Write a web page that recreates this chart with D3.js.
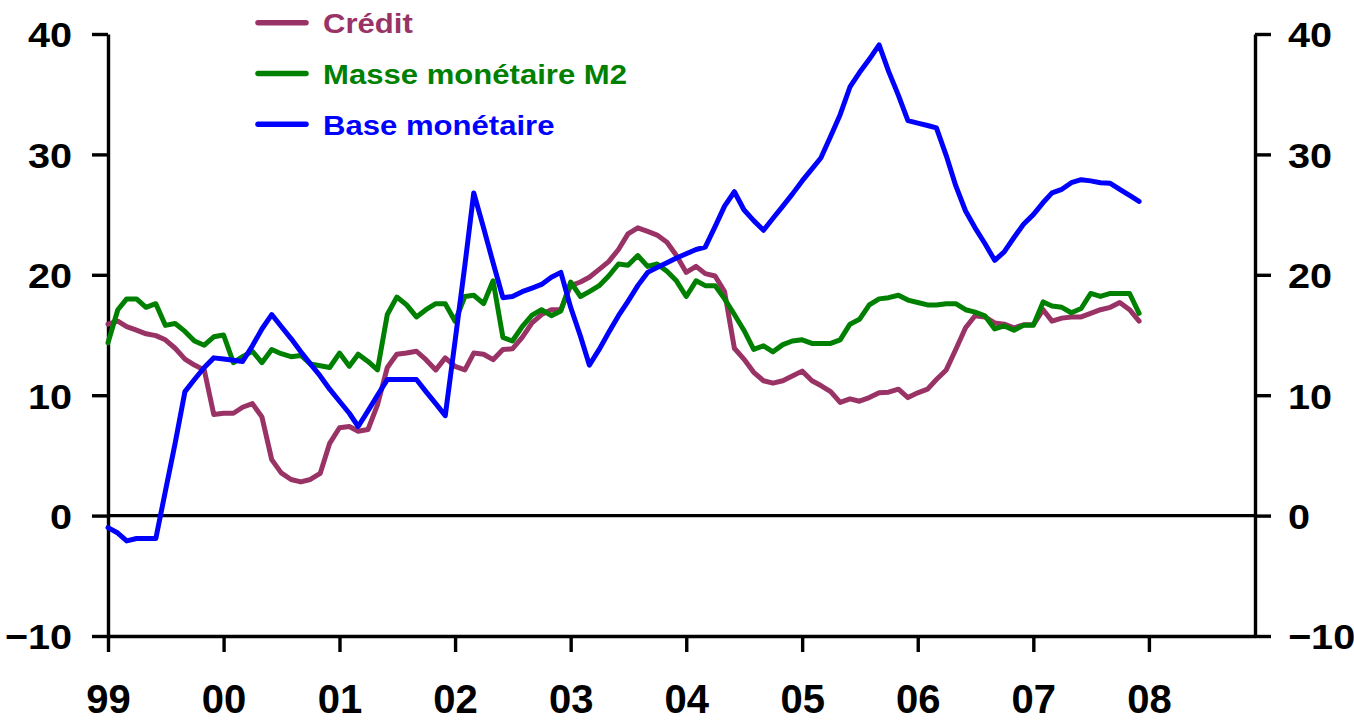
<!DOCTYPE html>
<html>
<head>
<meta charset="utf-8">
<script src="https://cdn.jsdelivr.net/npm/d3@7"></script>
<style>
  html, body { margin: 0; padding: 0; background: #fff; }
  svg { display: block; }
  text { font-family: Arial, "Liberation Sans", sans-serif; font-weight: bold; }
</style>
</head>
<body>
<svg id="chart" width="1354" height="723"></svg>
<script>
// ---- Data (monthly, Jan 1999 – Dec 2007, % y/y) ----
const startYear = 1999;
const credit = [15.9,16.15,15.7,15.4,15.1,14.95,14.6,13.9,13.0,12.5,12.1,8.4,
  8.5,8.5,9.0,9.3,8.2,4.65,3.55,3.0,2.8,3.0,3.5,6.0,
  7.3,7.4,7.0,7.15,9.2,12.3,13.4,13.5,13.65,12.95,12.1,13.1,
  12.4,12.1,13.5,13.4,12.95,13.8,13.85,14.8,16.0,16.7,17.1,17.1,
  19.1,19.4,19.8,20.45,21.1,22.1,23.4,23.9,23.6,23.3,22.7,21.6,
  20.2,20.7,20.1,19.9,18.6,13.9,13.0,11.9,11.2,11.0,11.2,11.6,
  12.0,11.2,10.8,10.3,9.4,9.7,9.5,9.8,10.2,10.25,10.5,9.8,
  10.2,10.5,11.3,12.1,13.8,15.6,16.6,16.5,16.0,15.9,15.6,15.85,
  15.85,17.1,16.15,16.4,16.5,16.5,16.8,17.1,17.3,17.7,17.1,16.15];
const m2 = [14.35,17.1,18.0,18.0,17.3,17.6,15.8,15.95,15.3,14.5,14.15,14.85,
  15.0,12.7,13.2,13.65,12.7,13.8,13.45,13.2,13.3,12.6,12.45,12.3,
  13.5,12.4,13.4,12.8,12.1,16.7,18.15,17.5,16.5,17.1,17.6,17.6,
  16.15,18.2,18.3,17.6,19.5,14.8,14.5,15.7,16.65,17.1,16.6,17.0,
  19.4,18.2,18.6,19.1,19.9,20.9,20.8,21.6,20.7,20.9,20.3,19.5,
  18.2,19.5,19.1,19.1,18.0,16.7,15.4,13.8,14.1,13.6,14.2,14.5,
  14.6,14.3,14.3,14.3,14.6,15.9,16.3,17.5,18.0,18.1,18.3,17.9,
  17.7,17.5,17.5,17.6,17.6,17.1,16.9,16.6,15.5,15.75,15.4,15.8,
  15.8,17.75,17.4,17.3,16.85,17.2,18.45,18.2,18.45,18.45,18.45,16.8];
const baseMon = [-1.0,-1.45,-2.1,-1.9,-1.9,-1.9,2.0,6.0,10.3,11.3,12.3,13.1,
  13.0,12.9,12.8,14.1,15.5,16.7,15.7,14.7,13.6,12.6,11.6,10.5,
  9.5,8.5,7.4,8.7,10.0,11.3,11.3,11.3,11.3,10.3,9.3,8.3,
  14.5,20.8,26.8,23.9,21.0,18.1,18.2,18.6,18.9,19.2,19.8,20.2,
  17.3,14.9,12.5,13.8,15.2,16.6,17.8,19.1,20.2,20.6,21.0,21.4,
  21.75,22.1,22.3,24.0,25.7,26.9,25.4,24.5,23.7,24.7,25.7,26.7,
  27.8,28.8,29.7,31.5,33.3,35.6,36.8,37.9,39.1,36.9,34.9,32.8,
  32.6,32.4,32.2,29.9,27.4,25.3,23.9,22.6,21.2,21.9,23.1,24.2,
  25.0,26.0,26.8,27.1,27.65,27.9,27.8,27.65,27.6,27.1,26.6,26.1];
const seriesNames = ["Crédit", "Masse monétaire M2", "Base monétaire"];
const seriesColors = ["#993366", "#008000", "#0000FF"];
const yTicks = [-10, 0, 10, 20, 30, 40];

// ---- Layout ----
const svg = d3.select("#chart");
const x = d3.scaleTime()
  .domain([new Date(1999, 0, 1), new Date(2008, 11, 1)])
  .range([108, 1255]);
const y = d3.scaleLinear().domain([-10, 40]).range([636, 34]);

const dates = credit.map((_, i) => new Date(startYear, i, 1));
const allSeries = [credit, m2, baseMon];

// zero line
svg.append("line")
  .attr("x1", x.range()[0]).attr("x2", x.range()[1])
  .attr("y1", y(0)).attr("y2", y(0))
  .attr("stroke", "#000").attr("stroke-width", 3.2);

// axes
function styleAxis(g) {
  g.selectAll("path.domain").attr("stroke", "#000").attr("stroke-width", 3.4);
  g.selectAll(".tick line").attr("stroke", "#000").attr("stroke-width", 3.4);
  g.selectAll("text").attr("fill", "#000");
}

const yLeft = svg.append("g")
  .attr("transform", `translate(${x.range()[0]},0)`)
  .call(d3.axisLeft(y).tickValues(yTicks).tickSizeInner(16).tickSizeOuter(0).tickFormat(d3.format("d")));
styleAxis(yLeft);
yLeft.selectAll("text")
  .attr("x", null).attr("dy", "0.36em")
  .attr("font-size", 36)
  .attr("text-anchor", "end")
  .attr("transform", "translate(-36,0) scale(1.1,1)");

const yRight = svg.append("g")
  .attr("transform", `translate(${x.range()[1]},0)`)
  .call(d3.axisRight(y).tickValues(yTicks).tickSizeInner(16).tickSizeOuter(0).tickFormat(d3.format("d")));
styleAxis(yRight);
yRight.selectAll("text")
  .attr("x", null).attr("dy", "0.36em")
  .attr("font-size", 36)
  .attr("text-anchor", "start")
  .attr("transform", "translate(33,0) scale(1.1,1)");

const xAxis = svg.append("g")
  .attr("transform", `translate(0,${y(-10)})`)
  .call(d3.axisBottom(x).ticks(d3.timeYear.every(1)).tickSizeInner(16).tickSizeOuter(0)
    .tickFormat(d3.timeFormat("%y")));
styleAxis(xAxis);
xAxis.selectAll("text")
  .attr("font-size", 40)
  .attr("dy", null)
  .attr("y", 77);

svg.selectAll(".tick text").style("font-family", 'Arial, "Liberation Sans", sans-serif').style("font-weight", "bold");

// series lines
const line = d3.line()
  .x((d, i) => x(dates[i]))
  .y(d => y(d));

allSeries.forEach((s, k) => {
  svg.append("path")
    .datum(s)
    .attr("fill", "none")
    .attr("stroke", seriesColors[k])
    .attr("stroke-width", 5)
    .attr("stroke-linejoin", "round")
    .attr("stroke-linecap", "round")
    .attr("d", line);
});

// legend
const legend = svg.append("g");
seriesNames.forEach((name, k) => {
  const ly = 22.7 + k * 50.8;
  legend.append("line")
    .attr("x1", 258).attr("x2", 306)
    .attr("y1", ly).attr("y2", ly)
    .attr("stroke", seriesColors[k])
    .attr("stroke-width", 5.5)
    .attr("stroke-linecap", "round");
  legend.append("text")
    .attr("transform", `translate(323,${ly + 10.6}) scale(1.11,1)`)
    .attr("font-size", 28)
    .attr("fill", seriesColors[k])
    .text(name);
});
</script>
</body>
</html>
